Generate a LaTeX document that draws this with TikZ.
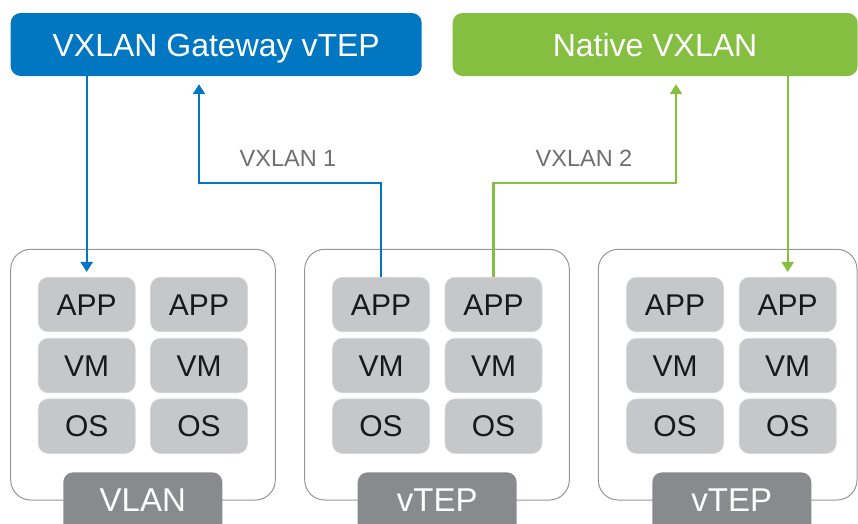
\documentclass[tikz,border=0pt]{standalone}
\usepackage{fontspec}
\setmainfont{Liberation Sans}
\usetikzlibrary{arrows.meta}
\definecolor{vblue}{RGB}{0,119,192}
\definecolor{vgreen}{RGB}{132,191,65}
\definecolor{boxgray}{RGB}{198,199,201}
\definecolor{darkgray}{RGB}{137,138,141}
\definecolor{framegray}{RGB}{150,150,150}
\definecolor{labgray}{RGB}{110,111,113}
\definecolor{txt}{RGB}{25,25,25}
\tikzset{
  titlebox/.style={rounded corners=10pt, text=white, inner sep=0pt, minimum height=63pt,
    font=\fontsize{32}{36}\selectfont, text height=23pt, text depth=0pt},
  vmbox/.style={fill=boxgray, draw=boxgray!70!white, line width=0.6pt, rounded corners=10pt,
    minimum width=97pt, minimum height=54.5pt, inner sep=0pt, text=txt,
    font=\fontsize{30}{34}\selectfont, text height=21pt, text depth=0pt},
  hostframe/.style={draw=framegray, line width=1pt, rounded corners=20pt},
  botfill/.style={fill=darkgray, rounded corners=10pt},
  botlabel/.style={text=white, inner sep=0pt, font=\fontsize{33}{36}\selectfont,
    text height=24pt, text depth=0pt},
  vxlabel/.style={text=labgray, inner sep=0pt, font=\fontsize{23.5}{26}\selectfont,
    text height=17pt, text depth=0pt},
  conn/.style={line width=2.2pt},
  tip/.style={-{Triangle[width=12pt,length=10pt]}},
}
\begin{document}
\begin{tikzpicture}[x=1pt,y=-1pt]
\useasboundingbox (0,0) rectangle (858,523);
% top boxes
\node[titlebox, fill=vblue, minimum width=411pt] (gw) at (216.2,44.5) {VXLAN Gateway vTEP};
\node[titlebox, fill=vgreen, minimum width=405pt] (nv) at (655.1,44.5) {Native VXLAN};
% host frames
\draw[hostframe] (10.7,249.3) rectangle (275.3,500);
\draw[hostframe] (304.7,249.3) rectangle (569.3,500);
\draw[hostframe] (598.3,249.3) rectangle (857,500);
% bottom labels
\fill[botfill] (63.3,472.3) rectangle (222.3,545);
\fill[botfill] (357.7,472.3) rectangle (516.7,545);
\fill[botfill] (652.3,472.3) rectangle (811.3,545);
\node[botlabel] (l1) at (142.8,499.5) {VLAN};
\node[botlabel] (l2) at (437.2,499.5) {vTEP};
\node[botlabel] (l3) at (731.8,499.5) {vTEP};
% VM stacks
\foreach \h/\xa/\xb in {1/86.7/199, 2/381/493.5, 3/675/787.7}{
  \node[vmbox] (a\h1) at (\xa,304.5) {APP};
  \node[vmbox] (v\h1) at (\xa,365.5) {VM};
  \node[vmbox] (o\h1) at (\xa,426.2) {OS};
  \node[vmbox] (a\h2) at (\xb,304.5) {APP};
  \node[vmbox] (v\h2) at (\xb,365.5) {VM};
  \node[vmbox] (o\h2) at (\xb,426.2) {OS};
}
% connectors
\coordinate (b1) at (199,182.7);
\coordinate (g1) at (676,182.7);
\draw[conn, draw=vblue, tip, shorten >=-0.5pt] (gw.south -| a11) -- ([yshift=5.5pt]a11.north);
\draw[conn, draw=vblue, tip] (a21.north) |- (b1) -- ([yshift=-8pt]b1 |- gw.south);
\draw[conn, draw=vgreen, tip] (a22.north) |- (g1) -- ([yshift=-8pt]g1 |- nv.south);
\draw[conn, draw=vgreen, tip, shorten >=-0.5pt] (nv.south -| a32) -- ([yshift=5.5pt]a32.north);
% labels
\node[vxlabel] (x1) at (288,158) {VXLAN 1};
\node[vxlabel] (x2) at (584,158) {VXLAN 2};
\end{tikzpicture}
\end{document}
